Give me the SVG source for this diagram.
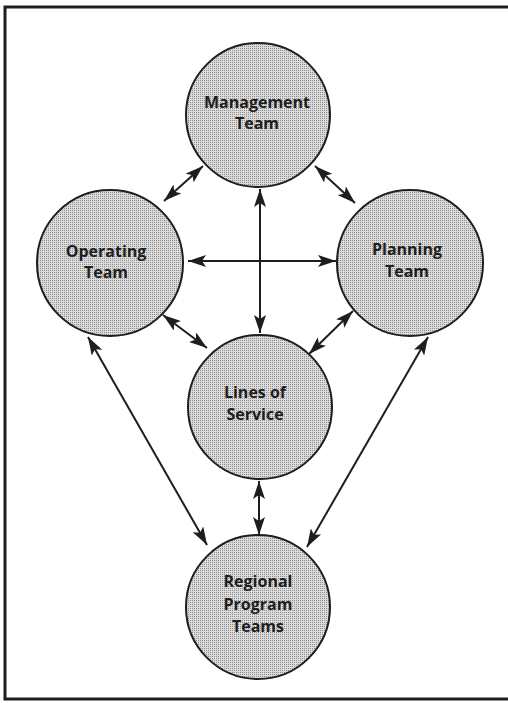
<svg xmlns="http://www.w3.org/2000/svg" width="508" height="703" viewBox="0 0 508 703">
<style>
.node{stroke:#1e1e1e;stroke-width:2;fill:url(#dots)}
.lbl{font-family:"Open Sans","Liberation Sans",sans-serif;font-weight:700;font-size:16px;fill:#1e1e1e;text-anchor:middle}
.conn{stroke:#1e1e1e;stroke-width:2;fill:none;marker-start:url(#ah);marker-end:url(#ah)}
</style>
<defs>
<pattern id="dots" width="2" height="2" patternUnits="userSpaceOnUse">
<rect width="2" height="2" fill="#dcdcdc"/>
<rect width="1" height="1" fill="#8c8c8c"/>
</pattern>
<marker id="ah" viewBox="0 0 18 12" refX="18" refY="6" markerWidth="18" markerHeight="12" markerUnits="userSpaceOnUse" orient="auto-start-reverse">
<path d="M0,0 L18,6 L0,12 L4,6 z" fill="#1e1e1e"/>
</marker>
</defs>
<rect x="0" y="0" width="508" height="703" fill="#fff"/>
<rect x="5" y="7" width="520" height="692" fill="none" stroke="#1e1e1e" stroke-width="3"/>
<g id="connectors">
<line class="conn" x1="203" y1="166" x2="164" y2="201"/>
<line class="conn" x1="315" y1="166" x2="355" y2="203"/>
<line class="conn" x1="260" y1="189" x2="260" y2="333"/>
<line class="conn" x1="188" y1="261" x2="336" y2="261"/>
<line class="conn" x1="163" y1="315" x2="207" y2="348"/>
<line class="conn" x1="353" y1="311" x2="309" y2="354"/>
<line class="conn" x1="88" y1="337" x2="207" y2="545"/>
<line class="conn" x1="428" y1="337" x2="307" y2="547"/>
<line class="conn" x1="259" y1="481" x2="259" y2="535"/>
</g>
<g id="management">
<circle class="node" cx="258" cy="115" r="72"/>
<text class="lbl" x="257" y="108">Management</text>
<text class="lbl" x="257" y="129">Team</text>
</g>
<g id="operating">
<circle class="node" cx="110" cy="263" r="73"/>
<text class="lbl" x="106" y="257">Operating</text>
<text class="lbl" x="106" y="278">Team</text>
</g>
<g id="planning">
<circle class="node" cx="410" cy="263" r="73"/>
<text class="lbl" x="407" y="255">Planning</text>
<text class="lbl" x="407" y="277">Team</text>
</g>
<g id="lines-of-service">
<circle class="node" cx="260" cy="407" r="72"/>
<text class="lbl" x="255" y="398">Lines of</text>
<text class="lbl" x="255" y="420">Service</text>
</g>
<g id="regional">
<circle class="node" cx="258" cy="607" r="72"/>
<text class="lbl" x="258" y="587">Regional</text>
<text class="lbl" x="258" y="610">Program</text>
<text class="lbl" x="258" y="632">Teams</text>
</g>
</svg>
